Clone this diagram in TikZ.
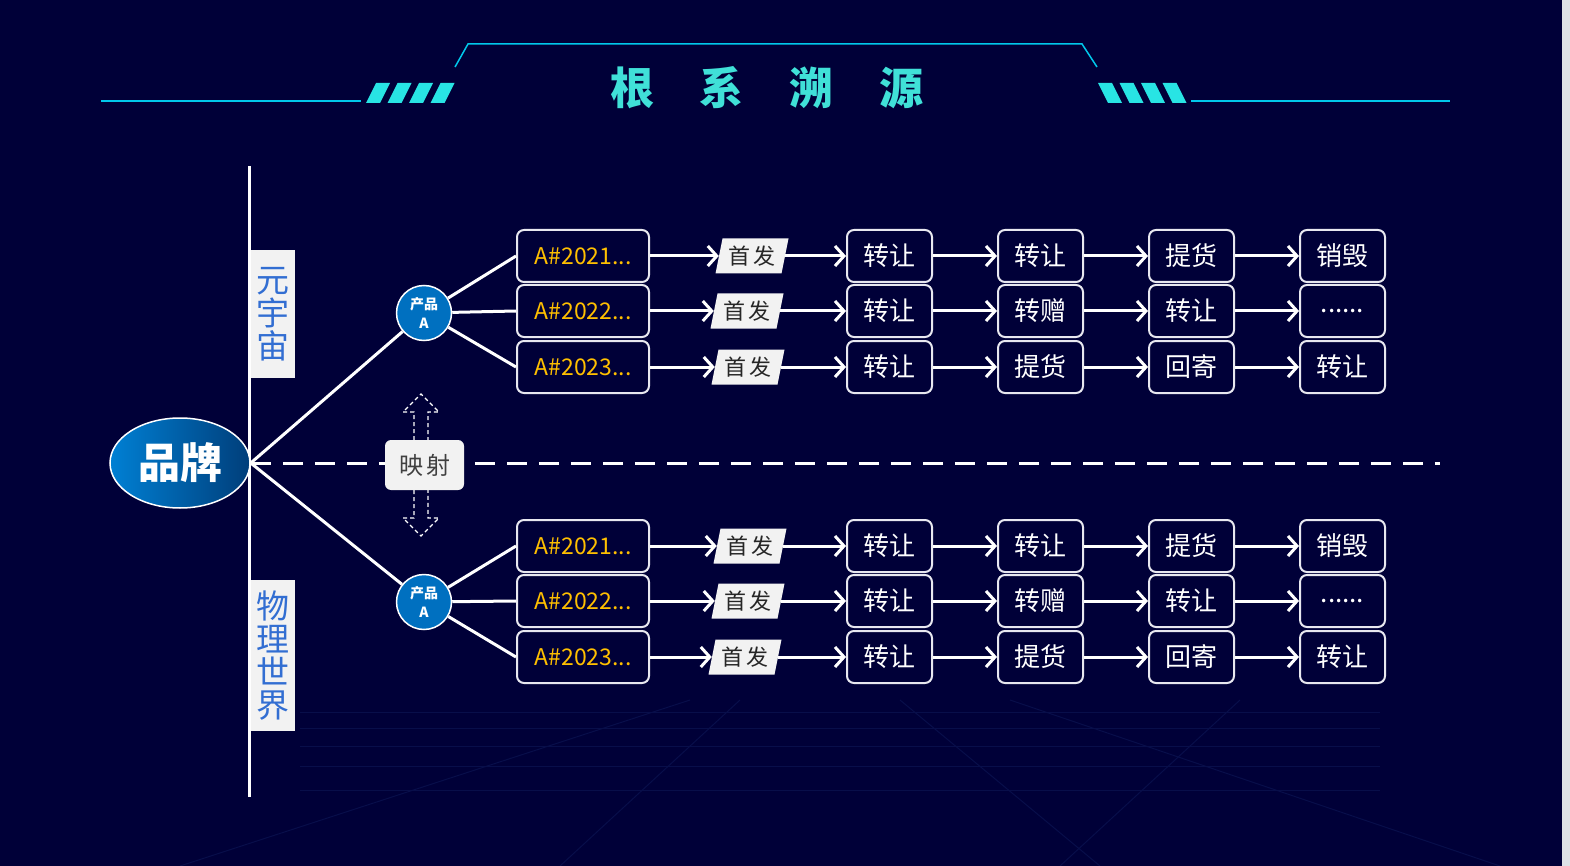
\documentclass[tikz,border=0pt]{standalone}
\usepackage{fontspec}
\newfontfamily\cjk{Noto Sans CJK SC}
\usetikzlibrary{arrows.meta,shapes.geometric}

\definecolor{navy}{RGB}{0,0,56}
\definecolor{sidegray}{RGB}{222,226,230}
\definecolor{faint}{RGB}{8,14,74}
\definecolor{linecyan}{RGB}{0,200,235}
\definecolor{stripecyan}{RGB}{40,228,228}
\definecolor{titlecyan}{RGB}{64,224,216}
\definecolor{labelblue}{RGB}{50,110,210}
\definecolor{paper}{RGB}{242,242,242}
\definecolor{prodblue}{RGB}{0,112,192}
\definecolor{brandlight}{RGB}{0,128,212}
\definecolor{branddark}{RGB}{0,62,122}
\definecolor{idorange}{RGB}{255,192,0}
\definecolor{boxline}{RGB}{232,232,240}

\newcommand{\dotsix}{......}

\tikzset{
  wire/.style = {white, line width=3pt},
  flow/.style = {white, line width=3pt, -{Straight Barb[length=9pt 0, width=20pt 0, line width=3pt]}},
  titleline/.style = {linecyan, line width=2pt},
  stripe/.style = {fill=stripecyan},
  gridline/.style = {faint, line width=1pt},
  brand/.style = {ellipse, draw=white, line width=1.5pt, left color=brandlight, right color=branddark,
    minimum width=140pt, minimum height=90pt, text=white, font=\cjk\bfseries\fontsize{42}{42}\selectfont},
  sidelabel/.style = {fill=paper, text=labelblue, anchor=north west, minimum width=44pt, inner sep=0pt,
    align=center, font=\cjk\fontsize{33}{33}\selectfont},
  product/.style = {circle, draw=white, line width=1.5pt, fill=prodblue, minimum size=55pt, inner sep=0pt,
    text=white, align=center, font=\cjk\bfseries\fontsize{14}{19}\selectfont},
  idbox/.style = {draw=boxline, line width=2pt, rounded corners=7pt, fill=navy, minimum width=132pt,
    minimum height=52pt, text=idorange, font=\cjk\fontsize{23}{23}\selectfont},
  stepbox/.style = {draw=boxline, line width=2pt, rounded corners=7pt, fill=navy, minimum width=85pt,
    minimum height=52pt, text=white, font=\cjk\fontsize{26}{26}\selectfont},
  slantbox/.style = {fill=paper, xslant=0.2, minimum width=66pt, minimum height=35pt, inner sep=0pt},
  firsttext/.style = {text=black!85, font=\cjk\fontsize{22}{22}\selectfont},
  mapbox/.style = {fill=paper, rounded corners=6pt, minimum width=79pt, minimum height=50pt,
    text=black!75, font=\cjk\fontsize{24}{24}\selectfont},
  maparrow/.style = {white, line width=1.2pt, dash pattern=on 4pt off 3pt},
}

\begin{document}
\begin{tikzpicture}[x=1pt, y=-1pt]
\useasboundingbox (0,0) rectangle (1570,866);
\fill[navy] (0,0) rectangle (1562,866);
\fill[sidegray] (1562,0) rectangle (1570,866);

% faint floor grid
\foreach \yy in {712,728,746,766,790} {
  \draw[gridline] (300,\yy) -- (1380,\yy);
}
\draw[gridline] (690,700) -- (180,866);
\draw[gridline] (740,700) -- (560,866);
\draw[gridline] (900,700) -- (1100,866);
\draw[gridline] (1010,700) -- (1500,866);
\draw[gridline] (1240,700) -- (1060,866);

% title
\draw[titleline] (101,101) -- (361,101);
\draw[titleline] (1191,101) -- (1450,101);
\draw[titleline, line width=1.5pt] (455,67) -- (468,44) -- (1082,44) -- (1097,67);
\foreach \i in {0,1,2,3} {
  \fill[stripe] (366+21.5*\i,103) -- ++(14,0) -- ++(10,-20) -- ++(-14,0) -- cycle;
  \fill[stripe] (1098+21.5*\i,83) -- ++(14,0) -- ++(10,20) -- ++(-14,0) -- cycle;
}
\node[text=titlecyan, font=\cjk\bfseries\fontsize{44}{44}\selectfont] (title) at (767,88)
  {根\hspace{46pt}系\hspace{46pt}溯\hspace{46pt}源};

% axis and dashed split
\coordinate (axtop) at (249,166);
\coordinate (axbot) at (249,797);
\coordinate (dashend) at (1440,463);
\draw[white, line width=3pt] (axtop) -- (axbot);
\node[brand] (brand) at (180,463) {品牌};
\draw[white, line width=3pt, dash pattern=on 20pt off 12pt] (brand.east) -- (dashend);
\node[sidelabel, minimum height=128pt] (meta) at (251,250) {元\\宇\\宙};
\node[sidelabel, minimum height=151pt] (phys) at (251,580) {物\\理\\世\\界};

% products
\node[product] (pu) at (424,313) {产品\\A};
\node[product] (pl) at (424,602) {产品\\A};
\draw[wire] (brand.east) -- (pu);
\draw[wire] (brand.east) -- (pl);

% mapping arrows
\draw[maparrow] (414,440) -- (414,412) -- (403,412) -- (421,394) -- (439,412) -- (428,412) -- (428,440);
\draw[maparrow] (414,490) -- (414,518) -- (403,518) -- (421,536) -- (439,518) -- (428,518) -- (428,490);
\node[mapbox] (map) at (424.5,465) {映\hspace{3pt}射};

% chains
\foreach \k/\y/\yr/\fx/\pa/\pb/\pc/\pd/\pp in {
  1/256/2021/752/转让/转让/提货/销毁/pu,
  2/311/2022/747/转让/转赠/转让/\dotsix/pu,
  3/367/2023/748/转让/提货/回寄/转让/pu,
  4/546/2021/750/转让/转让/提货/销毁/pl,
  5/601/2022/748/转让/转赠/转让/\dotsix/pl,
  6/657/2023/745/转让/提货/回寄/转让/pl} {
  \node[idbox] (id\k) at (583,\y) {A\#\yr...};
  \node[slantbox] (f\k) at (\fx,\y) {};
  \node[firsttext] at (f\k) {首\hspace{3pt}发};
  \node[stepbox] (s\k a) at (889.5,\y) {\pa};
  \node[stepbox] (s\k b) at (1040.5,\y) {\pb};
  \node[stepbox] (s\k c) at (1191.5,\y) {\pc};
  \node[stepbox] (s\k d) at (1342.5,\y) {\pd};
  \draw[wire] (\pp) -- (id\k.west);
  \draw[flow] (id\k) -- (f\k);
  \draw[flow] (f\k) -- (s\k a);
  \draw[flow] (s\k a) -- (s\k b);
  \draw[flow] (s\k b) -- (s\k c);
  \draw[flow] (s\k c) -- (s\k d);
}
\end{tikzpicture}
\end{document}
